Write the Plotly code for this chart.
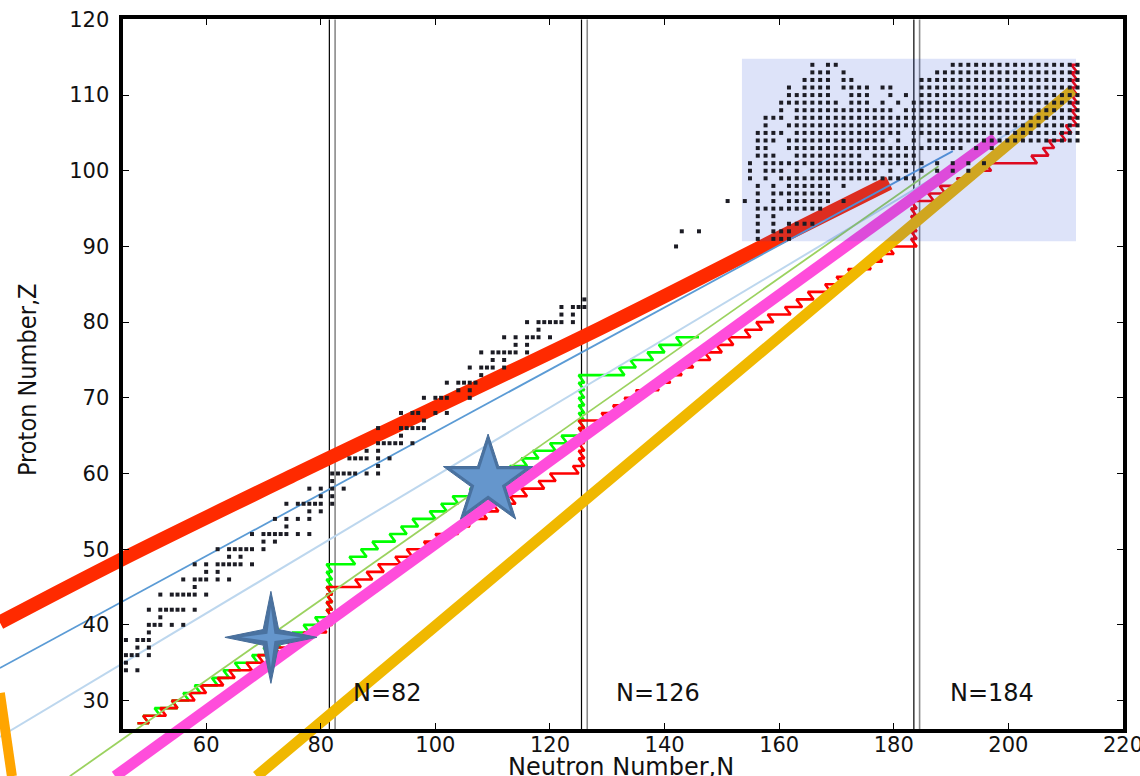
import math
import plotly.graph_objects as go

# ---------------------------------------------------------------------------
# Canvas and frame geometry
# ---------------------------------------------------------------------------
W, H = 1140, 776
FL, FR, FT, FB = 122.5, 1123.3, 19.4, 729.3      # frame edges in pixels
N_RANGE = (45.4, 220.05)
Z_RANGE = (26.2, 120.0)

sx = (FR - FL) / (N_RANGE[1] - N_RANGE[0])       # px per neutron
sy = (FB - FT) / (Z_RANGE[1] - Z_RANGE[0])       # px per proton
FULL_X = (N_RANGE[0] - FL / sx, N_RANGE[1] + (W - FR) / sx)
FULL_Y = (Z_RANGE[0] - (H - FB) / sy, Z_RANGE[1] + FT / sy)

# ---------------------------------------------------------------------------
# Data
# ---------------------------------------------------------------------------
X_TICKS = [60, 80, 100, 120, 140, 160, 180, 200, 220]
Y_TICKS = [30, 40, 50, 60, 70, 80, 90, 100, 110, 120]
MAGIC_N = [82, 126, 184]

# trend lines (N, Z)
RED_BAND_N = [24.0, 45.4, 76.4, 128.8, 160.2, 179.2]
RED_BAND_Z = [40.3, 48.7, 60.2, 79.2, 91.2, 98.4]
BLUE_N, BLUE_Z = [24.0, 190.3], [34.3, 102.6]
LIGHTBLUE_N, LIGHTBLUE_Z = [24.0, 203.8], [25.2, 106.7]
LIME_N, LIME_Z = [36.2, 187.8], [20.0, 100.6]
MAGENTA_N, MAGENTA_Z = [44.1, 197.7], [20.0, 104.3]
GOLD_N, GOLD_Z = [68.8, 211.3], [20.0, 110.7]
ORANGE_N, ORANGE_Z = [24.0, 26.1], [31.0, 20.0]

# r-process paths: (Z, first N, last N) for each element
GREEN_PATH = [
    (27, 48, 50), (28, 49, 52), (29, 51, 55), (30, 54, 57), (31, 56, 59),
    (32, 58, 62), (33, 61, 64), (34, 63, 66), (35, 65, 69), (36, 68, 71),
    (37, 70, 73), (38, 72, 76), (39, 75, 78), (40, 77, 80), (41, 79, 82),
    (42, 81, 82), (43, 81, 82), (44, 81, 82), (45, 81, 82), (46, 81, 82),
    (47, 81, 82), (48, 81, 86), (49, 85, 88), (50, 87, 90), (51, 89, 93),
    (52, 92, 95), (53, 94, 97), (54, 96, 100), (55, 99, 102), (56, 101, 104),
    (57, 103, 107), (58, 106, 109), (59, 108, 111), (60, 110, 114),
    (61, 113, 116), (62, 115, 118), (63, 117, 121), (64, 120, 123),
    (65, 122, 126), (66, 125, 126), (67, 125, 126), (68, 125, 126),
    (69, 125, 126), (70, 125, 126), (71, 125, 126), (72, 125, 126),
    (73, 125, 133), (74, 132, 135), (75, 134, 138), (76, 137, 140),
    (77, 139, 143), (78, 142, 146),
]
RED_PATH = [
    (27, 48, 50), (28, 49, 53), (29, 52, 55), (30, 54, 58), (31, 57, 60),
    (32, 59, 63), (33, 62, 65), (34, 64, 68), (35, 67, 70), (36, 69, 73),
    (37, 72, 75), (38, 74, 78), (39, 77, 81), (40, 80, 82), (41, 81, 82),
    (42, 81, 82), (43, 81, 82), (44, 81, 82), (45, 81, 87), (46, 86, 89),
    (47, 88, 91), (48, 90, 94), (49, 93, 96), (50, 95, 99), (51, 98, 101),
    (52, 100, 104), (53, 103, 106), (54, 105, 109), (55, 108, 111),
    (56, 110, 114), (57, 113, 116), (58, 115, 119), (59, 118, 121),
    (60, 120, 125), (61, 124, 126), (62, 125, 126), (63, 125, 126),
    (64, 125, 126), (65, 125, 126), (66, 125, 126), (67, 125, 130),
    (68, 129, 132), (69, 131, 134), (70, 133, 136), (71, 135, 139),
    (72, 138, 141), (73, 140, 143), (74, 142, 145), (75, 144, 148),
    (76, 147, 150), (77, 149, 152), (78, 151, 155), (79, 154, 157),
    (80, 156, 159), (81, 158, 162), (82, 161, 164), (83, 163, 166),
    (84, 165, 169), (85, 168, 171), (86, 170, 173), (87, 172, 176),
    (88, 175, 178), (89, 177, 180), (90, 179, 184), (91, 183, 184),
    (92, 183, 184), (93, 183, 184), (94, 183, 184), (95, 183, 184),
    (96, 183, 187), (97, 186, 189), (98, 188, 192), (99, 191, 194),
    (100, 193, 197), (101, 196, 205), (102, 204, 207), (103, 206, 208),
    (104, 207, 210), (105, 209, 211), (106, 210, 212), (107, 211, 212),
    (108, 211, 212), (109, 211, 212), (110, 211, 212), (111, 211, 212),
    (112, 211, 212), (113, 211, 212), (114, 211, 212),
]

# known nuclides, lighter region: Z -> list of N
LIGHT_NUCLIDES = {
    34: [46, 48], 35: [46], 36: [46, 47, 48, 50], 37: [48, 50],
    38: [46, 48, 49, 50], 39: [50], 40: [50, 51, 52, 54, 56], 41: [52],
    42: [50, 52, 53, 54, 55, 56, 58], 44: [52, 54, 55, 56, 57, 58, 60],
    45: [58], 46: [56, 58, 59, 60, 62, 64], 47: [60, 62],
    48: [58, 60, 62, 63, 64, 65, 66, 68], 49: [64, 66],
    50: [62, 64, 65, 66, 67, 68, 70], 51: [70, 72],
    52: [68, 70, 71, 72, 73, 74, 76, 78], 53: [74], 54: [72, 74, 76, 78],
    55: [78, 80], 56: [74, 76, 77, 78, 79, 80, 82], 57: [80, 82],
    58: [78, 80, 82, 84], 59: [82], 60: [82, 83, 84, 85, 86, 88, 90],
    61: [90], 62: [85, 86, 87, 88, 90, 92], 63: [88, 90],
    64: [90, 91, 92, 93, 94, 96], 65: [94], 66: [90, 94, 95, 96, 97, 98],
    67: [98], 68: [94, 96, 97, 100, 102], 70: [98, 100, 101, 102, 106],
    71: [104, 106], 72: [102, 104, 105, 106, 107], 73: [108],
    74: [106, 108, 109, 110, 112], 75: [110, 112],
    76: [108, 110, 111, 112, 113, 114, 116], 77: [114, 116],
    78: [112, 114, 116, 117, 118, 120], 79: [118],
    80: [116, 118, 119, 120, 121, 122, 124], 81: [122, 124],
    82: [122, 124, 125, 126], 83: [126],
    90: [142], 92: [143, 146], 96: [151, 154],
}

# superheavy block: one string per Z (from 114 down), '#' = nuclide
HEAVY_N0, HEAVY_DN = 154.9, 1.361
HEAVY_TOP_Z = 114
HEAVY_ROWS = [
    "........#.##..............#################",   # 114
    "........###.#...........###################",   # 113
    ".......####.##........#####################",   # 112
    ".....#.####.####.##...#####################",   # 111
    ".....######..###..#.#.#####################",   # 110
    "....########.###.#.#.######################",   # 109
    "....#.#############.#######################",   # 108
    "..###.#####################################",   # 107
    "..#..######################################",   # 106
    ".####.##############.######################",   # 105
    ".###.#############.#.#.####################",   # 104
    ".##..#######################.#.#...........",   # 103
    ".###..#########.######.....................",   # 102
    "#.#####################.#.#.#.#............",   # 101
    "#.###.#.#########.#.#.#.#.#.#..............",   # 100
    "#.#.##################.....................",   # 99
    ".#.#.######.#..............................",   # 98
    ".#.########................................",   # 97
    ".#.#.######.#..............................",   # 96
    ".#########.................................",   # 95
    ".#.#.......................................",   # 94
    ".#.#.####..................................",   # 93
    ".#.###.....................................",   # 92
    ".#.###.....................................",   # 91
]
HEAVY_BOX_N = (153.5, 211.8)
HEAVY_BOX_Z = (90.7, 114.8)

# markers for two highlighted nuclei
STAR4_N, STAR4_Z = 71.3, 38.35
STAR5_N, STAR5_Z = 109.2, 59.0


# ---------------------------------------------------------------------------
# Helpers
# ---------------------------------------------------------------------------
def path_xy(rows):
    xs, ys = [], []
    for z, lo, hi in rows:
        xs += [lo, hi]
        ys += [z, z]
    return xs, ys


def star_outline(cn, cz, points, r_out, r_in):
    """Star polygon around (cn, cz); radii given in screen pixels."""
    xs, ys = [], []
    for i in range(2 * points + 1):
        r = r_out if i % 2 == 0 else r_in
        a = math.radians(90 + i * 180.0 / points)
        xs.append(cn + r * math.cos(a) / sx)
        ys.append(cz + r * math.sin(a) / sy)
    return xs, ys


fig = go.Figure()


def line(xs, ys, color, width, shape="linear"):
    fig.add_trace(go.Scatter(x=xs, y=ys, mode="lines", hoverinfo="skip",
                             line=dict(color=color, width=width, shape=shape),
                             showlegend=False))


# shell closures: pair of thin verticals at N-0.5 / N+0.5
for n in MAGIC_N:
    line([n - 0.5, n - 0.5], list(Z_RANGE), "#000000", 1.2)
    line([n + 0.5, n + 0.5], list(Z_RANGE), "#8a8a8a", 1.6)

# r-process paths
gx, gy = path_xy(GREEN_PATH)
line(gx, gy, "#00ff00", 2.6)
rx, ry = path_xy(RED_PATH)
line(rx, ry, "#ff0000", 2.6)

# trend lines
line(RED_BAND_N, RED_BAND_Z, "#ff2a00", 14, "spline")
line(BLUE_N, BLUE_Z, "#5b9bd5", 1.8)
line(LIGHTBLUE_N, LIGHTBLUE_Z, "#bdd7ee", 2.0)
line(LIME_N, LIME_Z, "#9bd25f", 1.8)
line(MAGENTA_N, MAGENTA_Z, "#ff4ddb", 11)
line(GOLD_N, GOLD_Z, "#f0b800", 11)
line(ORANGE_N, ORANGE_Z, "#ffa500", 10)

# translucent superheavy window
bx0, bx1 = HEAVY_BOX_N
by0, by1 = HEAVY_BOX_Z
fig.add_trace(go.Scatter(x=[bx0, bx1, bx1, bx0, bx0], y=[by0, by0, by1, by1, by0],
                         mode="lines", fill="toself", hoverinfo="skip",
                         fillcolor="rgba(28,68,215,0.15)", line=dict(width=0),
                         showlegend=False))

# nuclide dots
dn, dz = [], []
for z, ns in LIGHT_NUCLIDES.items():
    for n in ns:
        dn.append(n)
        dz.append(z)
for i, row in enumerate(HEAVY_ROWS):
    z = HEAVY_TOP_Z - i
    for k, ch in enumerate(row):
        if ch == "#":
            dn.append(HEAVY_N0 + k * HEAVY_DN)
            dz.append(z)
fig.add_trace(go.Scatter(x=dn, y=dz, mode="markers", hoverinfo="skip",
                         marker=dict(symbol="square", size=4, color="#1c1c24",
                                     line=dict(width=0)),
                         showlegend=False))

# highlighted nuclei
for (cn, cz, pts, ro, ri, ro2, ri2) in [
        (STAR4_N, STAR4_Z, 4, 46, 11, 30, 5),
        (STAR5_N, STAR5_Z, 5, 47, 18, 38, 14.5)]:
    xs, ys = star_outline(cn, cz, pts, ro, ri)
    fig.add_trace(go.Scatter(x=xs, y=ys, mode="lines", fill="toself",
                             fillcolor="#4a72a0", line=dict(color="#476d99", width=1),
                             hoverinfo="skip", showlegend=False))
    xs, ys = star_outline(cn, cz, pts, ro2, ri2)
    fig.add_trace(go.Scatter(x=xs, y=ys, mode="lines", fill="toself",
                             fillcolor="#6596cc", line=dict(width=0),
                             hoverinfo="skip", showlegend=False))

# empty trace so the framed subplot exists
fig.add_trace(go.Scatter(x=[], y=[], xaxis="x2", yaxis="y2", showlegend=False))

# labels of the shell closures
for n, xc in zip(MAGIC_N, [91.6, 138.9, 197.1]):
    fig.add_annotation(x=xc, y=31.0, xref="x", yref="y", text=f"N={n}",
                       xanchor="center", yanchor="middle", showarrow=False,
                       font=dict(family="DejaVu Sans", size=24, color="#111111"))

fig.add_annotation(x=621 / W, y=1 - 767 / H, xref="paper", yref="paper",
                   xanchor="center", yanchor="middle",
                   text="Neutron Number,N", showarrow=False,
                   font=dict(family="DejaVu Sans", size=24, color="#111111"))
fig.add_annotation(x=27 / W, y=1 - 380 / H, xref="paper", yref="paper",
                   xanchor="center", yanchor="middle",
                   text="Proton Number,Z", showarrow=False, textangle=-90,
                   font=dict(family="DejaVu Sans Condensed, DejaVu Sans", size=25,
                             color="#111111"))

hidden = dict(visible=False, showgrid=False, zeroline=False, fixedrange=True,
              automargin=False)
frame = dict(showline=True, linecolor="#000000", linewidth=4, mirror="ticks",
             ticks="inside", ticklen=6, tickwidth=1.3, tickcolor="#000000",
             showgrid=False, zeroline=False, automargin=False,
             ticklabeloverflow="allow",
             tickfont=dict(family="DejaVu Sans", size=21, color="#111111"))

fig.update_layout(
    width=W, height=H, autosize=False,
    margin=dict(l=0, r=0, t=0, b=0, pad=0, autoexpand=False),
    paper_bgcolor="#ffffff", plot_bgcolor="rgba(0,0,0,0)",
    xaxis=dict(domain=[0, 1], range=list(FULL_X), **hidden),
    yaxis=dict(domain=[0, 1], range=list(FULL_Y), **hidden),
    xaxis2=dict(domain=[FL / W, FR / W], range=list(N_RANGE), anchor="y2",
                tickvals=X_TICKS, ticklabelstandoff=-7, **frame),
    yaxis2=dict(domain=[1 - FB / H, 1 - FT / H], range=list(Z_RANGE), anchor="x2",
                tickvals=Y_TICKS, ticklabelstandoff=5, **frame),
    showlegend=False,
)

fig.write_html("out.html")
